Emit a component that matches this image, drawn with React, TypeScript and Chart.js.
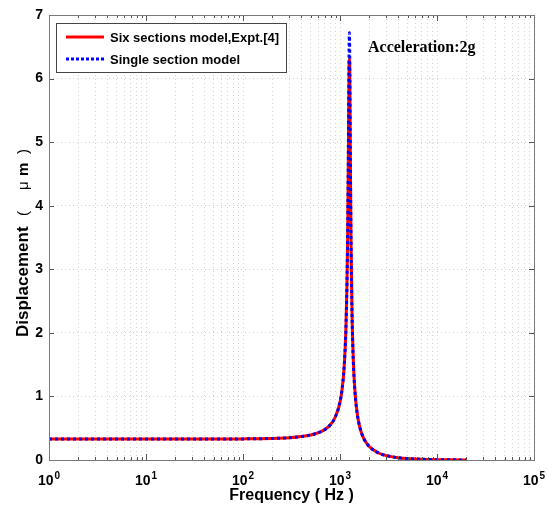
import React, { useEffect, useRef } from 'react';
import { Chart, registerables } from 'chart.js';
Chart.register(...registerables);

const freqs = [1, 2, 5, 10, 20, 50, 100, 200, 300, 400, 500, 600, 700, 800, 900, 1000, 1050, 1100, 1150, 1180, 1200, 1220, 1240, 1250, 1260, 1280, 1300, 1330, 1370, 1420, 1500, 1600, 1750, 2000, 2500, 3000, 4000, 5000, 7000, 10000, 15000, 20000];
const sixSections = [0.33, 0.33, 0.33, 0.33, 0.33, 0.33, 0.332, 0.339, 0.35, 0.368, 0.393, 0.429, 0.481, 0.559, 0.685, 0.911, 1.109, 1.43, 2.05, 2.77, 3.56, 4.79, 6.19, 6.3, 6.1, 4.61, 3.39, 2.31, 1.58, 1.115, 0.745, 0.517, 0.344, 0.212, 0.11, 0.069, 0.036, 0.022, 0.011, 0.0052, 0.0023, 0.0013];
const singleSection = [0.33, 0.33, 0.33, 0.33, 0.33, 0.33, 0.332, 0.339, 0.35, 0.368, 0.393, 0.429, 0.481, 0.559, 0.685, 0.911, 1.109, 1.43, 2.05, 2.77, 3.58, 4.9, 6.45, 6.72, 6.35, 4.7, 3.42, 2.32, 1.58, 1.115, 0.745, 0.517, 0.344, 0.212, 0.11, 0.069, 0.036, 0.022, 0.011, 0.0052, 0.0023, 0.0013];
const yTickValues = [0, 1, 2, 3, 4, 5, 6, 7];
const xDecades = [0, 1, 2, 3, 4, 5];
const legendLabels = ['Six sections model,Expt.[4]', 'Single section model'];
const annotationText = 'Acceleration:2g';
const xTitle = 'Frequency ( Hz )';
const yTitleMain = 'Displacement';
const yTitleUnit = ['(', '\u03bc', 'm', ')'];

const SANS = '"Liberation Sans", Arial, Helvetica, sans-serif';
const SERIF = '"Liberation Serif", "Times New Roman", serif';

export default function App() {
  const ref = useRef<HTMLCanvasElement>(null);
  useEffect(() => {
    const canvas = ref.current!;
    const xTickValues: number[] = [];
    for (const d of xDecades.slice(0, -1)) for (let m = 1; m < 10; m++) xTickValues.push(m * Math.pow(10, d));
    xTickValues.push(Math.pow(10, xDecades[xDecades.length - 1]));

    const overlay = {
      id: 'overlay',
      afterDraw(chart: any) {
        const ctx = chart.ctx as CanvasRenderingContext2D;
        const a = chart.chartArea;
        const xs = chart.scales.x;
        const ys = chart.scales.y;
        ctx.save();
        // inward ticks
        ctx.strokeStyle = '#555';
        ctx.lineWidth = 1;
        ctx.setLineDash([]);
        ctx.beginPath();
        for (const v of xTickValues) {
          const x = Math.round(xs.getPixelForValue(v)) + 0.5;
          const major = Math.abs(Math.log10(v) - Math.round(Math.log10(v))) < 1e-9;
          const len = major ? 6 : 3;
          ctx.moveTo(x, a.bottom);
          ctx.lineTo(x, a.bottom - len);
          ctx.moveTo(x, a.top);
          ctx.lineTo(x, a.top + len);
        }
        for (const v of yTickValues) {
          const y = Math.round(ys.getPixelForValue(v)) + 0.5;
          ctx.moveTo(a.left, y);
          ctx.lineTo(a.left + 5, y);
          ctx.moveTo(a.right, y);
          ctx.lineTo(a.right - 5, y);
        }
        ctx.stroke();
        // frame
        ctx.strokeStyle = '#7a7a7a';
        ctx.strokeRect(Math.round(a.left) + 0.5, Math.round(a.top) + 0.5, Math.round(a.right - a.left), Math.round(a.bottom - a.top));
        // x tick labels with superscripts
        ctx.fillStyle = '#000';
        ctx.textBaseline = 'alphabetic';
        ctx.textAlign = 'left';
        for (const d of xDecades) {
          const x = xs.getPixelForValue(Math.pow(10, d));
          ctx.font = `bold 14px ${SANS}`;
          const wb = ctx.measureText('10').width;
          ctx.font = `bold 10px ${SANS}`;
          const we = ctx.measureText(String(d)).width;
          const start = x - (wb + we + 1) / 2;
          ctx.font = `bold 14px ${SANS}`;
          ctx.fillText('10', start, a.bottom + 25);
          ctx.font = `bold 10px ${SANS}`;
          ctx.fillText(String(d), start + wb + 1, a.bottom + 19);
        }
        // y title (rotated)
        ctx.save();
        ctx.translate(28, 337);
        ctx.rotate(-Math.PI / 2);
        ctx.textBaseline = 'alphabetic';
        ctx.font = `bold 17px ${SANS}`;
        ctx.fillText(yTitleMain, 0, 0);
        const unitPos = [121, 147, 161, 183];
        const unitFont = [`15px ${SANS}`, `15px ${SANS}`, `bold 15px ${SANS}`, `15px ${SANS}`];
        yTitleUnit.forEach((t, i) => {
          ctx.font = unitFont[i];
          ctx.fillText(t, unitPos[i], 0);
        });
        ctx.restore();
        // legend
        const lx = 56, ly = 23, lw = 230, lh = 49;
        ctx.fillStyle = '#fff';
        ctx.fillRect(lx, ly, lw, lh);
        ctx.strokeStyle = '#444';
        ctx.lineWidth = 1;
        ctx.strokeRect(lx + 0.5, ly + 0.5, lw, lh);
        const rows = [
          { y: 37, color: '#ff0000', dash: [] as number[] },
          { y: 59, color: '#0000ff', dash: [3, 2] },
        ];
        rows.forEach((r, i) => {
          ctx.strokeStyle = r.color;
          ctx.lineWidth = 3;
          ctx.setLineDash(r.dash);
          ctx.beginPath();
          ctx.moveTo(66, r.y);
          ctx.lineTo(104, r.y);
          ctx.stroke();
          ctx.setLineDash([]);
          ctx.fillStyle = '#000';
          ctx.font = `bold 13px ${SANS}`;
          ctx.textBaseline = 'middle';
          ctx.fillText(legendLabels[i], 110, r.y + 1);
        });
        // annotation
        ctx.font = `bold 16px ${SERIF}`;
        ctx.fillStyle = '#000';
        ctx.textBaseline = 'middle';
        ctx.fillText(annotationText, 368, 48);
        ctx.restore();
      },
    };

    const chart = new Chart(canvas, {
      type: 'line',
      data: {
        datasets: [
          {
            label: legendLabels[0],
            data: freqs.map((f, i) => ({ x: f, y: sixSections[i] })),
            borderColor: '#ff0000',
            borderWidth: 3,
            pointRadius: 0,
            cubicInterpolationMode: 'monotone',
            order: 2,
          },
          {
            label: legendLabels[1],
            data: freqs.map((f, i) => ({ x: f, y: singleSection[i] })),
            borderColor: '#0000ff',
            borderWidth: 3,
            borderDash: [3, 3],
            pointRadius: 0,
            cubicInterpolationMode: 'monotone',
            order: 1,
          },
        ],
      },
      options: {
        animation: false,
        responsive: true,
        maintainAspectRatio: false,
        layout: { padding: { left: 0, top: 15, right: 13, bottom: 0 } },
        plugins: { legend: { display: false }, tooltip: { enabled: false } },
        scales: {
          x: {
            type: 'logarithmic',
            min: 1,
            max: 100000,
            afterBuildTicks: (scale: any) => {
              scale.ticks = xTickValues.map((v) => ({ value: v }));
            },
            afterFit: (scale: any) => {
              scale.height = 49;
            },
            ticks: { display: false, autoSkip: false },
            grid: { color: '#d4d4d4', lineWidth: 1, drawTicks: false },
            border: { display: false, dash: [1, 3] },
            title: {
              display: true,
              text: xTitle,
              color: '#000',
              font: { family: SANS, size: 16, weight: 'bold' },
              padding: { top: 0, bottom: 4 },
            },
          },
          y: {
            type: 'linear',
            min: 0,
            max: 7,
            afterBuildTicks: (scale: any) => {
              scale.ticks = yTickValues.map((v) => ({ value: v }));
            },
            afterFit: (scale: any) => {
              scale.width = 49;
            },
            ticks: {
              color: '#000',
              padding: 6,
              font: { family: SANS, size: 14, weight: 'bold' },
            },
            grid: { color: '#d4d4d4', lineWidth: 1, drawTicks: false },
            border: { display: false, dash: [1, 3] },
            title: { display: false },
          },
        },
      },
      plugins: [overlay],
    } as any);
    return () => chart.destroy();
  }, []);
  return (
    <div style={{ position: 'fixed', left: 0, top: 0, width: 547, height: 509, background: '#fff' }}>
      <canvas ref={ref} />
    </div>
  );
}
